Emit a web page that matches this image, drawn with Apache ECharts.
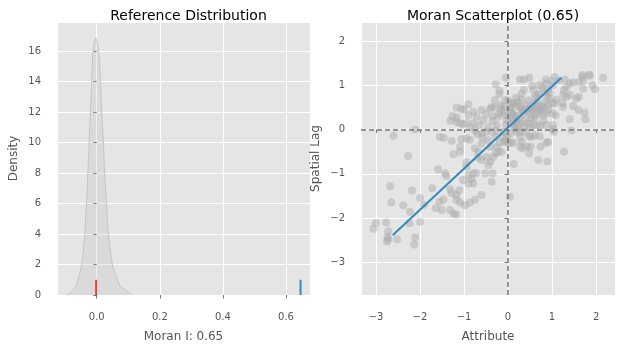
<!DOCTYPE html>
<html>
<head>
<meta charset="utf-8">
<script src="https://cdn.jsdelivr.net/npm/echarts@6/dist/echarts.min.js"></script>
<style>
  html, body { margin: 0; padding: 0; background: #ffffff; }
  #chart { width: 621px; height: 350px; }
</style>
</head>
<body>
<div id="chart"></div>
<script>
// Permutation reference distribution of Moran's I (density estimate)
const densityX = [-0.095, -0.085, -0.064, -0.048, -0.038, -0.033, -0.028, -0.024, -0.020, -0.016, -0.012, -0.003,
                  0.006, 0.012, 0.016, 0.021, 0.025, 0.031, 0.037, 0.050, 0.073, 0.104, 0.112];
const densityY = [0, 0.1, 0.66, 1.97, 3.93, 5.9, 8.0, 10.05, 12.0, 14.0, 15.95, 16.87,
                  15.95, 14.0, 12.0, 10.05, 8.0, 5.9, 3.93, 1.97, 0.66, 0.1, 0];

// Expected I under the null and observed I
const expectedI = -0.002;
const observedI = 0.646;
const rugHeight = 1;

// Standardised attribute vs spatial lag
const attribute = [
  -3.0, -3.06, -2.77, -2.72, -2.74, -2.75, -2.72, -2.52, -2.68, -2.65, -2.6, -2.11, -2.27, -2.38, -2.18, -2.23, -2.24, -2.11, -2.13, -2.0,
  -2.0, -1.91, -1.72, -1.64, -1.59, -1.56, -1.51, -1.43, -1.40, -1.32, -1.47, -1.24, -1.32, -1.18, -1.28, -1.17, -1.11, -1.17, -1.09, -0.98,
  -0.87, -0.75, -0.60, -1.55, -1.46, -1.28, -1.24, -1.17, -1.17, -1.06, -1.26, -1.17, -1.02, -1.09, -1.31, -1.09, -1.09, -1.06, -0.94, -0.90,
  -0.90, -0.79, -0.79, -0.75, -0.87, -0.94, -0.90, -0.83, -0.79, -0.90, -0.94, -1.02, -0.79, -0.72, -0.68, -0.68, -0.75, -0.60, -0.60, -0.58,
  -0.56, -0.60, -0.71, -0.50, -0.52, -0.49, -0.45, -0.37, -0.35, -0.40, -0.34, -0.40, -0.45, -0.37, -0.35, -0.37, -0.41, -0.30, -0.28, -0.19,
  -0.20, -0.17, -0.20, -0.22, -0.26, -0.26, -0.28, -0.25, -0.22, -0.15, -0.28, -0.19, -0.11, -0.09, -0.05, -0.07, -0.09, -0.05, -0.03, -0.05,
  -0.09, -0.03, 0.00, 0.06, 0.12, 0.04, 0.13, 0.0, 0.04, 0.08, 0.12, 0.15, 0.19, 0.03, 0.12, 0.23, 0.15, 0.27, 0.28, 0.31,
  0.33, 0.28, 0.27, 0.36, 0.31, 0.23, 0.27, 0.33, 0.42, 0.50, 0.46, 0.36, 0.48, 0.55, 0.57, 0.61, 0.57, 0.66, 0.71, 0.72,
  0.78, 0.86, 0.87, 0.91, 0.89, 0.84, 0.80, 0.74, 0.69, 0.61, 0.53, 0.46, 0.57, 0.66, 0.74, 0.87, 1.02, 1.08, 1.01, 0.93,
  0.87, 0.80, 0.48, 0.53, 0.61, 0.51, 0.43, 0.48, 0.69, 0.89, 0.74, 0.87, 0.91, 0.72, 1.02, 1.04, 1.27, 1.40, 1.44, 1.48,
  1.60, 1.55, 1.61, 1.74, 1.76, 1.71, 1.69, 1.84, 1.92, 1.97, 2.16, 1.48, 1.40, 1.33, 1.27, 1.25, 1.33, 1.40, 1.10, 1.06,
  1.24, 1.25, 1.16, 1.29, 1.06, 1.02, 1.71, 0.95, 1.00, 1.61, 1.68, 1.86,
  0.10, 0.20, 0.30, 0.35, 0.40, 0.45, 0.50, 0.55, 0.60, 0.65, 0.70, 0.75, 0.20, 0.25, 0.30, 0.35, 0.40, 0.05, 0.10, -0.10,
  -0.15, 0.15, 0.20, 0.05, -0.05, 0.40, 0.50, 0.60, 0.80, 0.90, 1.00, 0.95, 0.85, 0.65, 0.30, 0.18, 0.10, -0.30, -0.35, -0.45,
  -0.50, -0.65, -0.70, -0.85, -0.95, -1.00, -0.60
];
const spatialLag = [
  -2.11, -2.24, -2.10, -2.30, -2.43, -2.53, -2.48, -2.48, -1.28, -1.65, -0.14, 0.0, -0.60, -1.71, -1.38, -1.86, -2.12, -2.44, -2.60, -2.09,
  -1.55, -1.70, -1.33, -1.78, -0.90, -1.63, -1.82, -0.99, -1.05, -1.35, -1.58, -1.90, -1.82, -1.92, -1.44, -1.48, -1.37, -1.59, -1.65, -1.71,
  -1.65, -1.59, -1.48, -0.17, -0.19, -0.26, -0.56, 0.17, 0.50, 0.47, 0.30, 0.27, 0.12, 0.14, 0.20, -0.39, -0.50, -0.22, -0.20, 0.32,
  0.57, 0.40, 0.14, -0.02, -0.23, -0.74, -1.03, -1.11, -1.22, -1.22, -0.84, -1.14, -0.99, -0.98, -0.63, -0.50, -0.43, -0.32, -0.69, -0.18,
  0.21, 0.44, 0.29, -0.05, -0.99, -0.62, -0.80, -1.18, -0.99, -0.73, -0.62, -0.39, -0.24, -0.05, 0.30, 0.51, 0.47, 0.66, 1.02, 0.87,
  0.80, 0.55, 0.36, 0.29, 0.10, -0.02, -0.17, -0.39, -0.50, -0.50, -0.54, -0.30, -0.17, -0.28, 1.17, 0.66, 0.51, 0.32, 0.21, 0.10,
  -0.05, -0.17, -0.30, -0.30, -0.30, -1.52, -0.78, 0.66, 0.51, 0.40, 0.59, 0.32, 0.21, 0.25, 0.14, 0.10, 0.02, -0.05, -0.17, -0.28,
  -0.43, -0.39, 1.13, 1.13, 0.81, 0.62, 0.51, 0.44, 0.47, 0.50, 0.66, 0.90, 1.17, 0.99, 0.90, 0.74, 0.59, 0.62, 0.80, 1.00,
  0.95, 1.13, 1.04, 0.90, 0.74, 0.62, 0.51, 0.44, 0.36, 0.32, 0.25, 0.14, 0.10, 0.10, 0.08, 0.10, 0.10, 0.32, 0.36, 0.45,
  0.36, 0.32, -0.15, -0.17, -0.13, -0.39, -0.39, -0.54, -0.69, -0.72, -0.39, -0.30, -0.28, -0.15, 0.00, -0.05, -0.50, 0.23, -0.02, 0.53,
  0.44, 0.70, 0.74, 0.38, 0.23, 1.10, 1.23, 1.23, 1.00, 0.91, 1.17, 1.07, 1.04, 0.96, 0.90, 0.78, 0.74, 0.78, 0.68, 0.59,
  0.60, 0.51, 1.11, 1.13, 1.19, 1.00, 0.92, 0.83, 1.10, 1.07, 1.18, 1.22,
  0.60, 0.55, 0.45, 0.35, 0.55, 0.40, 0.35, 0.45, 0.50, 0.42, 0.55, 0.48, 0.30, 0.25, 0.15, 0.05, 0.20, 0.45, 0.35, 0.40,
  0.45, 0.05, -0.05, -0.10, -0.25, -0.05, 0.05, 0.25, 0.20, 0.55, 0.60, 0.70, 0.85, 0.78, 0.68, 0.72, 0.20, 0.50, 0.20, 0.05,
  0.35, 0.10, -0.10, 0.05, 0.15, 0.45, -0.10
];

// Least-squares fit, drawn over the observed attribute range
const fitX = [-2.62, 1.21];
const fitY = [-2.39, 1.17];

const moranLabel = observedI.toFixed(2);

const GREY_TEXT = '#555555';
const FONT = 'DejaVu Sans';
const PANEL_BG = '#E5E5E5';

const minus = v => (v < 0 ? '\u2212' + Math.abs(v) : String(v));

function valueAxis(opts) {
  return Object.assign({
    type: 'value',
    axisLine: { show: false },
    axisTick: { show: true, length: 3.5, lineStyle: { color: GREY_TEXT, width: 0.8 } },
    splitLine: { show: true, lineStyle: { color: '#ffffff', width: 1 } },
    nameTextStyle: { color: GREY_TEXT, fontFamily: FONT, fontSize: 12 },
    nameLocation: 'middle'
  }, opts);
}

function labelStyle(formatter, showMin) {
  return {
    color: GREY_TEXT, fontFamily: FONT, fontSize: 10, margin: 4,
    showMinLabel: !!showMin, showMaxLabel: false, formatter
  };
}

const chart = echarts.init(document.getElementById('chart'), null, { renderer: 'canvas' });

chart.setOption({
  animation: false,
  backgroundColor: '#ffffff',
  title: [
    { text: 'Reference Distribution', left: 183.5, top: 4, textAlign: 'center',
      textStyle: { fontFamily: FONT, fontSize: 14, fontWeight: 'normal', color: '#000' } },
    { text: 'Moran Scatterplot (' + moranLabel + ')', left: 488, top: 4, textAlign: 'center',
      textStyle: { fontFamily: FONT, fontSize: 14, fontWeight: 'normal', color: '#000' } }
  ],
  grid: [
    { left: 57, top: 22, width: 253, height: 273, show: true, backgroundColor: PANEL_BG, borderWidth: 0 },
    { left: 361, top: 22, width: 254, height: 273, show: true, backgroundColor: PANEL_BG, borderWidth: 0 }
  ],
  xAxis: [
    valueAxis({ gridIndex: 0, min: -0.126, max: 0.676, splitNumber: 4, offset: 13,
      name: 'Moran I: ' + moranLabel, nameGap: 23,
      axisLabel: labelStyle(v => v.toFixed(1)) }),
    valueAxis({ gridIndex: 1, min: -3.34, max: 2.43, splitNumber: 6, offset: 13,
      name: 'Attribute', nameGap: 23,
      axisLabel: labelStyle(minus) })
  ],
  yAxis: [
    valueAxis({ gridIndex: 0, min: 0, max: 17.9, splitNumber: 9, offset: 12,
      name: 'Density', nameGap: 25,
      axisLabel: labelStyle(v => String(v), true) }),
    valueAxis({ gridIndex: 1, min: -3.74, max: 2.43, splitNumber: 6, offset: 12,
      name: 'Spatial Lag', nameGap: 27,
      axisLabel: labelStyle(minus) })
  ],
  series: [
    {
      type: 'line', xAxisIndex: 0, yAxisIndex: 0, smooth: 0.2, symbol: 'none',
      data: densityX.map((x, i) => [x, densityY[i]]),
      lineStyle: { color: '#c4c4c4', width: 1 },
      areaStyle: { color: 'rgba(180,180,180,0.3)' },
      z: 2
    },
    {
      type: 'line', xAxisIndex: 0, yAxisIndex: 0, symbol: 'none',
      data: [[expectedI, 0], [expectedI, rugHeight]],
      lineStyle: { color: '#E24A33', width: 2 }, z: 3
    },
    {
      type: 'line', xAxisIndex: 0, yAxisIndex: 0, symbol: 'none',
      data: [[observedI, 0], [observedI, rugHeight]],
      lineStyle: { color: '#348ABD', width: 2 }, z: 3
    },
    {
      type: 'scatter', xAxisIndex: 1, yAxisIndex: 1, symbolSize: 8,
      data: attribute.map((x, i) => [x, spatialLag[i]]),
      itemStyle: { color: 'rgba(172,172,172,0.6)' },
      z: 2,
      markLine: {
        silent: true, symbol: 'none', animation: false,
        label: { show: false },
        lineStyle: { color: '#777777', type: [5, 3], width: 1.5 },
        data: [{ xAxis: 0 }, { yAxis: 0 }]
      }
    },
    {
      type: 'line', xAxisIndex: 1, yAxisIndex: 1, symbol: 'none',
      data: fitX.map((x, i) => [x, fitY[i]]),
      lineStyle: { color: '#348ABD', width: 2 }, z: 4
    }
  ]
});
</script>
</body>
</html>
